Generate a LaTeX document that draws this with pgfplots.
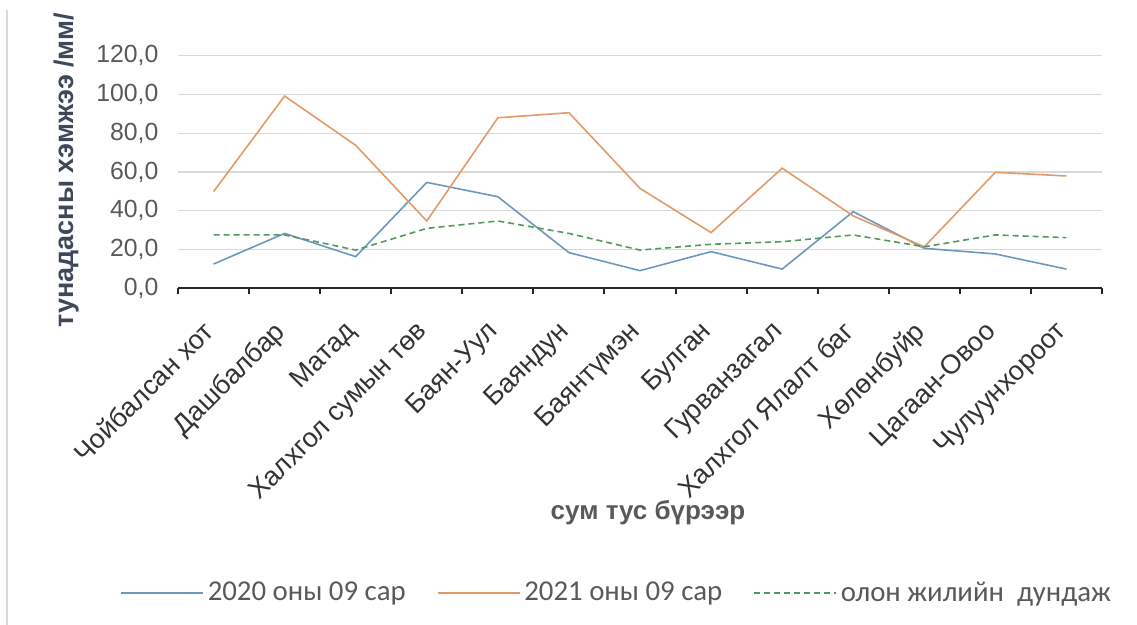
\documentclass[border=0pt]{standalone}
\usepackage{pgfplots}
\pgfplotsset{compat=1.18}
\usepackage{pgfplotstable}
\usepackage{fontspec}
\setmainfont{Liberation Sans}
\newfontfamily\legendfont{Carlito}

\definecolor{ser2020}{HTML}{6F97BD}
\definecolor{ser2021}{HTML}{E39A68}
\definecolor{seravg}{HTML}{4F9A5E}
\definecolor{txtgray}{HTML}{595959}
\definecolor{ylab}{HTML}{3F4858}
\definecolor{gridgray}{HTML}{D9D9D9}

% precipitation by sum: 2020-09, 2021-09, long-term mean
\pgfplotstableread{
idx  y2020  y2021  avg
0    12.6   49.9   27.6
1    28.4   99.2   27.6
2    16.4   73.8   19.8
3    54.7   34.8   31.0
4    47.3   88.0   34.8
5    18.5   90.6   28.4
6     9.2   51.6   19.8
7    19.0   28.8   22.8
8    10.0   62.0   24.1
9    39.6   37.4   27.6
10   20.7   21.5   21.5
11   17.8   59.9   27.6
12   10.0   58.0   26.2
}\rain

\begin{document}
\begin{tikzpicture}
	\useasboundingbox (0,0) rectangle (568.5pt,312.5pt);
	\draw[gridgray, line width=1pt] (3.5pt,0) -- (3.5pt,307.5pt);
	\begin{axis}[
			at={(89pt,168.25pt)}, anchor=south west,
			scale only axis, width=462pt, height=116.4pt,
			xmin=-0.5, xmax=12.5,
			ymin=0, ymax=120,
			axis x line*=bottom, axis y line*=left,
			y axis line style={draw=none},
			x axis line style={line width=1pt, black!85},
			ytick={0,20,...,120},
			ytick style={draw=none},
			ymajorgrids=true,
			grid style={gridgray, line width=0.6pt},
			xtick={0,...,12},
			xticklabels={Чойбалсан хот, Дашбалбар, Матад, Халхгол сумын төв, Баян-Уул, Баяндун, Баянтүмэн, Булган, Гурванзагал, Халхгол Ялалт баг, Хөлөнбуйр, Цагаан-Овоо, Чулуунхороот},
			major x tick style={draw=none},
			minor xtick={-0.5,0.5,...,12.5},
			minor x tick style={line width=1pt, black!85},
			minor tick length=3pt,
			tick align=outside,
			/pgf/number format/.cd, fixed, fixed zerofill, precision=1, use comma, 1000 sep={}, assume math mode=true,
			/pgfplots/.cd,
			yticklabel style={font=\fontsize{12.4}{14}\selectfont, text=txtgray, xshift=-2pt},
			xticklabel style={font=\fontsize{13.5}{15}\selectfont, text=black!80, rotate=45, anchor=north east, inner sep=0pt, yshift=-3.5pt, xshift=-12pt},
			xlabel={сум тус бүрээр},
			xlabel style={font=\bfseries\fontsize{13}{15}\selectfont, text=txtgray, at={(axis description cs:0.5087,-0.964)}, anchor=center},
			ylabel={тунадасны хэмжээ /мм/},
			ylabel style={font=\bfseries\fontsize{13.5}{15}\selectfont, text=ylab, at={(axis description cs:-0.099,0.509)}, anchor=south},
			legend columns=3,
			legend style={at={(axis description cs:-0.063,-1.308)}, anchor=west, draw=none, fill=none, inner sep=0pt,
				font=\legendfont\fontsize{14.4}{16}\selectfont, text=txtgray,
				/tikz/every even column/.append style={column sep=13.5pt}},
			legend image code/.code={\draw[#1] (0pt,0pt) -- (41pt,0pt);},
		]
		\addplot[ser2020, line width=0.8pt] table[x=idx, y=y2020] {\rain};
		\addplot[ser2021, line width=0.8pt] table[x=idx, y=y2021] {\rain};
		\addplot[seravg, line width=0.8pt, dash pattern=on 3pt off 2pt] table[x=idx, y=avg] {\rain};
		\legend{2020 оны 09 сар, 2021 оны 09 сар, олон жилийн\ \ дундаж}
	\end{axis}
\end{tikzpicture}
\end{document}
